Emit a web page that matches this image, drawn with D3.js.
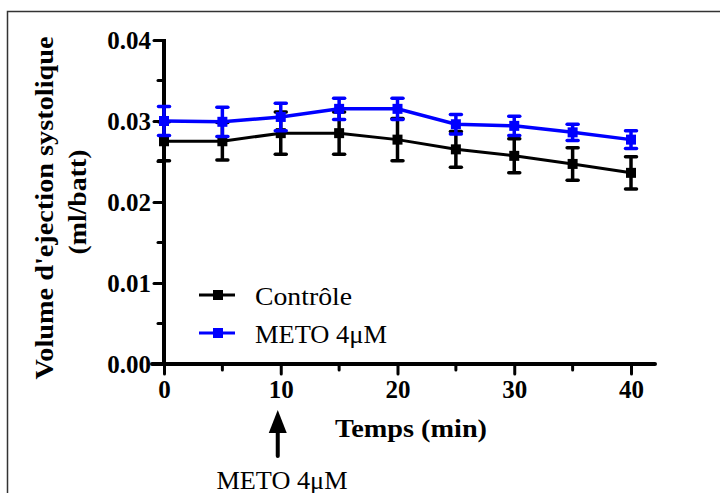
<!DOCTYPE html>
<html><head><meta charset="utf-8">
<script src="https://cdn.jsdelivr.net/npm/d3@7"></script>
<style>body{margin:0;background:#fff}svg{display:block}</style>
</head><body>
<svg id="c" width="720" height="493"></svg>
<script>
const times = [0, 5, 10, 15, 20, 25, 30, 35, 40];
const controlMean = [0.0275, 0.0275, 0.0285, 0.0285, 0.0277, 0.0265, 0.0257, 0.0247, 0.0236];
const controlSem  = [0.0024, 0.0023, 0.0026, 0.0026, 0.0026, 0.0022, 0.0021, 0.0020, 0.0020];
const metoMean = [0.0300, 0.0299, 0.0305, 0.0315, 0.0315, 0.0296, 0.0294, 0.0286, 0.0277];
const metoSem  = [0.0018, 0.0018, 0.0017, 0.0013, 0.0013, 0.0012, 0.0012, 0.0010, 0.0011];
const yTicks = [0, 0.01, 0.02, 0.03, 0.04];
const yMinor = [0.005, 0.015, 0.025, 0.035];
const xTicks = [0, 10, 20, 30, 40];
const xMinor = [5, 15, 25, 35];
const seriesNames = ["Contrôle", "METO 4\u03bcM"];
const seriesColors = ["#000000", "#0000ff"];

const svg = d3.select("#c");
const font = "'Liberation Serif','Times New Roman',serif";

// frame
svg.append("rect").attr("x", 7.5).attr("y", 11.5).attr("width", 730).attr("height", 500)
  .attr("fill", "none").attr("stroke", "#333").attr("stroke-width", 1.5);

const x = d3.scaleLinear().domain([0, 40]).range([164, 631]);
const y = d3.scaleLinear().domain([0, 0.04]).range([364, 40]);

// axes
const yAxis = d3.axisLeft(y).tickValues(yTicks).tickFormat(d3.format(".2f")).tickSize(10).tickSizeOuter(0).tickPadding(3);
const gy = svg.append("g").attr("transform", "translate(164,0)").call(yAxis);
gy.select(".domain").attr("stroke", "#000").attr("stroke-width", 4).attr("d", `M0,${y(0.04)-1}V${y(0)+2}`);
gy.selectAll(".tick line").attr("stroke-width", 3).attr("stroke-linecap", "round");
gy.selectAll(".tick text").attr("font-family", font).attr("font-weight", "bold").attr("font-size", 25).attr("fill", "#000")
  .attr("dy", "0.34em");
gy.selectAll(".minor").data(yMinor).enter().append("line")
  .attr("x1", -6).attr("x2", 0).attr("y1", d => y(d)).attr("y2", d => y(d))
  .attr("stroke", "#000").attr("stroke-width", 3).attr("stroke-linecap", "round");

const xAxis = d3.axisBottom(x).tickValues(xTicks).tickFormat(d3.format("d")).tickSize(10).tickSizeOuter(0).tickPadding(6);
const gx = svg.append("g").attr("transform", "translate(0,364)").call(xAxis);
gx.select(".domain").attr("stroke", "#000").attr("stroke-width", 4).attr("d", `M152,0H655`).attr("stroke-linecap", "round");
gx.selectAll(".tick line").attr("stroke-width", 3).attr("stroke-linecap", "round");
gx.selectAll(".tick text").attr("font-family", font).attr("font-weight", "bold").attr("font-size", 25).attr("fill", "#000");
gx.selectAll(".minor").data(xMinor).enter().append("line")
  .attr("y1", 0).attr("y2", 6).attr("x1", d => x(d)).attr("x2", d => x(d))
  .attr("stroke", "#000").attr("stroke-width", 3).attr("stroke-linecap", "round");

// axis titles
svg.append("text").attr("transform", "translate(53,208) rotate(-90)").attr("text-anchor", "middle")
  .attr("font-family", font).attr("font-weight", "bold").attr("font-size", 26)
  .attr("textLength", 343).attr("lengthAdjust", "spacingAndGlyphs").text("Volume d'ejection systolique");
svg.append("text").attr("transform", "translate(86,202) rotate(-90)").attr("text-anchor", "middle")
  .attr("font-family", font).attr("font-weight", "bold").attr("font-size", 26)
  .attr("textLength", 105).attr("lengthAdjust", "spacingAndGlyphs").text("(ml/batt)");
svg.append("text").attr("x", 411).attr("y", 437).attr("text-anchor", "middle")
  .attr("font-family", font).attr("font-weight", "bold").attr("font-size", 26)
  .attr("textLength", 152).attr("lengthAdjust", "spacingAndGlyphs").text("Temps (min)");

// series
const series = [
  {mean: controlMean, sem: controlSem, color: seriesColors[0], lw: 3},
  {mean: metoMean, sem: metoSem, color: seriesColors[1], lw: 3.5}
];
const line = d3.line().x((d, i) => x(times[i])).y(d => y(d));
series.forEach(s => {
  const g = svg.append("g");
  g.append("path").datum(s.mean).attr("d", line).attr("fill", "none").attr("stroke", s.color).attr("stroke-width", s.lw);
  const eb = g.selectAll(".eb").data(s.mean).enter().append("g");
  eb.append("line").attr("x1", (d, i) => x(times[i])).attr("x2", (d, i) => x(times[i]))
    .attr("y1", (d, i) => y(d + s.sem[i])).attr("y2", (d, i) => y(d - s.sem[i]))
    .attr("stroke", s.color).attr("stroke-width", 3.5);
  [1, -1].forEach(sg => {
    eb.append("line").attr("x1", (d, i) => x(times[i]) - 5.5).attr("x2", (d, i) => x(times[i]) + 5.5)
      .attr("y1", (d, i) => y(d + sg * s.sem[i])).attr("y2", (d, i) => y(d + sg * s.sem[i]))
      .attr("stroke", s.color).attr("stroke-width", 3.5).attr("stroke-linecap", "round");
  });
  eb.append("rect").attr("x", (d, i) => x(times[i]) - 5).attr("y", d => y(d) - 5)
    .attr("width", 10).attr("height", 10).attr("fill", s.color);
});

// legend
const legY = [295, 333];
const legLen = [97, 132];
seriesNames.forEach((n, i) => {
  svg.append("line").attr("x1", 199).attr("x2", 235).attr("y1", legY[i]).attr("y2", legY[i])
    .attr("stroke", seriesColors[i]).attr("stroke-width", 3);
  svg.append("rect").attr("x", 213).attr("y", legY[i] - 5).attr("width", 10).attr("height", 10).attr("fill", seriesColors[i]);
  svg.append("text").attr("x", 255).attr("y", legY[i] + 10).attr("font-family", font).attr("font-size", 26)
    .attr("textLength", legLen[i]).attr("lengthAdjust", "spacingAndGlyphs")
    .attr("fill", "#000").text(n);
});

// arrow annotation
const ax = x(10) - 3;
svg.append("line").attr("x1", ax).attr("x2", ax).attr("y1", 456).attr("y2", 428)
  .attr("stroke", "#000").attr("stroke-width", 4).attr("stroke-linecap", "round");
svg.append("path").attr("d", `M${ax},410L${ax-9},433L${ax+9},433Z`).attr("fill", "#000");
svg.append("text").attr("x", 282).attr("y", 489).attr("text-anchor", "middle")
  .attr("font-family", font).attr("font-size", 25)
  .attr("textLength", 131).attr("lengthAdjust", "spacingAndGlyphs").text("METO 4\u03bcM");
</script>
</body></html>
